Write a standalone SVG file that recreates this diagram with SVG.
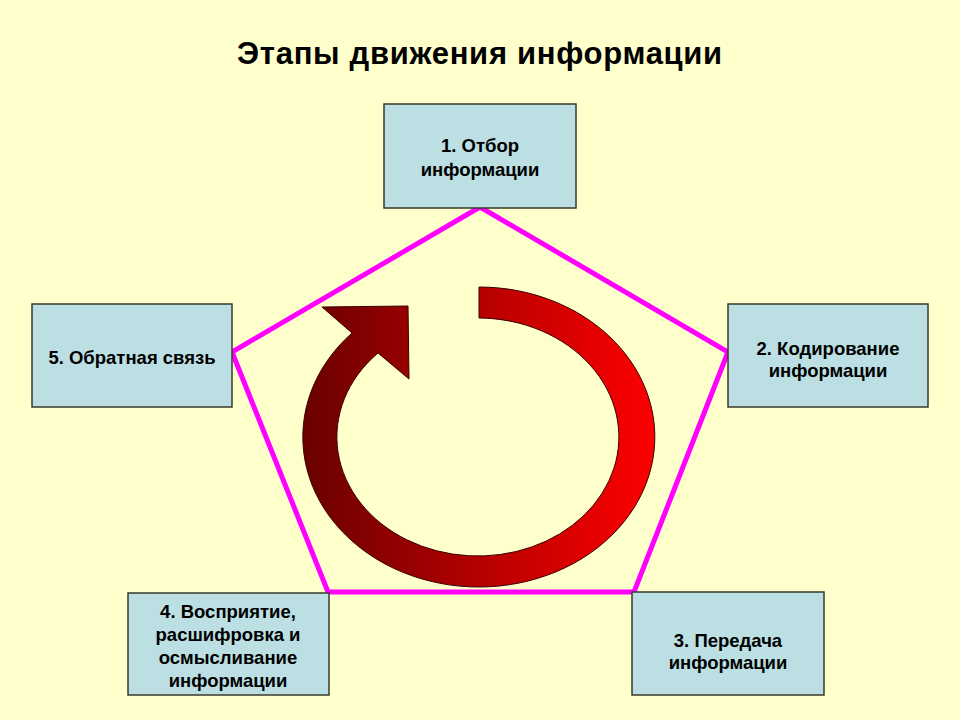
<svg xmlns="http://www.w3.org/2000/svg" width="960" height="720" viewBox="0 0 960 720">
<defs>
<linearGradient id="ringGrad" x1="304" y1="0" x2="656" y2="0" gradientUnits="userSpaceOnUse">
<stop offset="0" stop-color="#6A0000"/>
<stop offset="1" stop-color="#FF0000"/>
</linearGradient>
<style>
.box{fill:#BBDFE3;stroke:#3A3A2A;stroke-width:1.5}
.lbl{font-family:"Liberation Sans",Arial,sans-serif;font-weight:bold;font-size:18.5px;fill:#000;text-anchor:middle}
.title{font-family:"Liberation Sans",Arial,sans-serif;font-weight:bold;font-size:31px;letter-spacing:0.7px;fill:#000;text-anchor:middle}
</style>
</defs>
<rect width="960" height="720" fill="#FFFFCC"/>
<text class="title" x="480" y="64">Этапы движения информации</text>
<g id="connectors">
<polygon points="480,207 728,352 634,592 328,592 232,352" fill="none" stroke="#FF00FF" stroke-width="5" stroke-linejoin="miter"/>
</g>
<g id="cycle-arrow">
<path d="M479,287 A176,150 0 1 1 352,333 L322,307 L408,306 L409,379 L378,353 A141,119 0 1 0 479,318 Z" fill="url(#ringGrad)" stroke="#3A0000" stroke-width="1"/>
</g>
<g id="node1">
<rect class="box" x="384" y="104" width="192" height="104"/>
<text class="lbl" x="480" y="152">1. Отбор</text>
<text class="lbl" x="480" y="176">информации</text>
</g>
<g id="node2">
<rect class="box" x="728" y="304" width="200" height="103"/>
<text class="lbl" x="828" y="355">2. Кодирование</text>
<text class="lbl" x="828" y="377">информации</text>
</g>
<g id="node3">
<rect class="box" x="632" y="592" width="192" height="103"/>
<text class="lbl" x="728" y="647">3. Передача</text>
<text class="lbl" x="728" y="669">информации</text>
</g>
<g id="node4">
<rect class="box" x="128" y="593" width="201" height="102"/>
<text class="lbl" x="228" y="618">4. Восприятие,</text>
<text class="lbl" x="228" y="641">расшифровка и</text>
<text class="lbl" x="228" y="664">осмысливание</text>
<text class="lbl" x="228" y="687">информации</text>
</g>
<g id="node5">
<rect class="box" x="32" y="304" width="200" height="103"/>
<text class="lbl" x="132" y="364">5. Обратная связь</text>
</g>
</svg>
